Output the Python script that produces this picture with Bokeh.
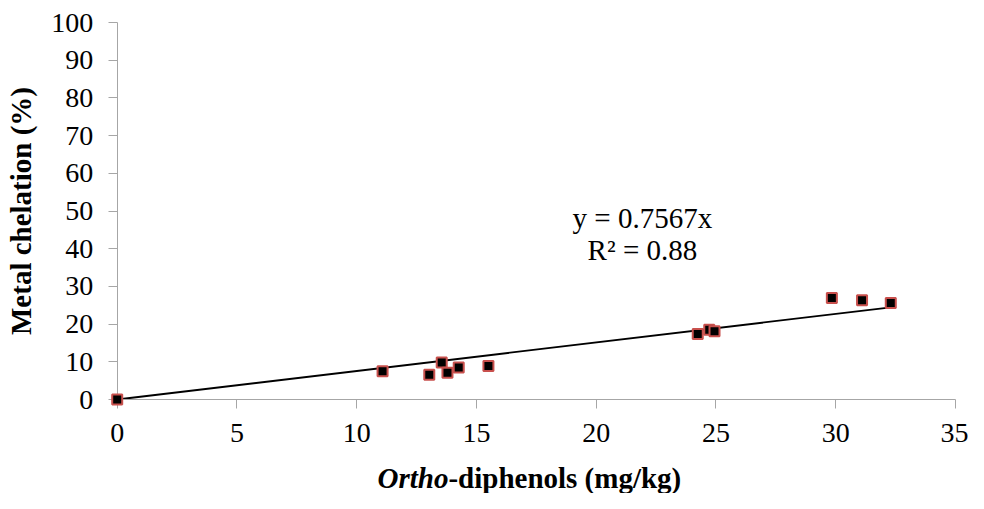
from bokeh.plotting import figure
from bokeh.models import Range1d, Label, FixedTicker
from bokeh.embed import file_html
from bokeh.resources import INLINE

# data
ortho_diphenols = [0.0, 11.08, 13.03, 13.55, 13.79, 14.26, 15.50, 24.24, 24.72, 24.94, 29.84, 31.10, 32.30]
metal_chelation = [0.0, 7.5, 6.6, 9.8, 7.1, 8.5, 8.9, 17.4, 18.5, 18.1, 26.9, 26.3, 25.6]
slope = 0.7567
r_squared = 0.88
x_ticks = [0, 5, 10, 15, 20, 25, 30, 35]
y_ticks = [0, 10, 20, 30, 40, 50, 60, 70, 80, 90, 100]

FONT = "Liberation Serif"

p = figure(width=968, height=493, output_backend="svg", toolbar_location=None,
           x_range=Range1d(-4.873, 35.545), y_range=Range1d(-24.93, 105.84),
           min_border_left=0, min_border_right=0, min_border_top=0, min_border_bottom=0)
p.outline_line_color = None
p.grid.visible = False
p.background_fill_color = "white"
p.border_fill_color = "white"

p.xaxis.fixed_location = 0
p.yaxis.fixed_location = 0
p.xaxis.bounds = (0, 35)
p.yaxis.bounds = (0, 100)

for ax in (p.xaxis[0], p.yaxis[0]):
    ax.axis_line_color = "#A6A6A6"
    ax.major_tick_line_color = "#A6A6A6"
    ax.minor_tick_line_color = None
    ax.major_tick_in = 0
    ax.major_tick_out = 9
    ax.major_label_text_font = FONT
    ax.major_label_text_font_size = "28px"
    ax.major_label_text_color = "#000000"

p.xaxis.ticker = FixedTicker(ticks=x_ticks)
p.yaxis.ticker = FixedTicker(ticks=y_ticks)
p.xaxis.major_label_standoff = 15
p.yaxis.major_label_standoff = 15

p.yaxis.axis_label = "Metal chelation (%)"
p.yaxis.axis_label_text_font = FONT
p.yaxis.axis_label_text_font_style = "bold"
p.yaxis.axis_label_text_font_size = "29px"
p.yaxis.axis_label_text_color = "#000000"
p.yaxis.axis_label_standoff = 12

# trend line y = slope * x
xmax = max(ortho_diphenols)
p.line([0, xmax], [0, slope * xmax], line_color="black", line_width=1.8)

p.scatter(ortho_diphenols, metal_chelation, marker="square", size=10,
          fill_color="black", line_color="#C8504D", line_width=2, level="overlay")

p.add_layout(Label(x=21.93, y=48.1, text="y = %.4fx" % slope, text_align="center",
                   text_baseline="alphabetic", text_font=FONT, text_font_size="29px",
                   text_color="black"))
p.add_layout(Label(x=21.93, y=39.6, text="R² = %.2f" % r_squared, text_align="center",
                   text_baseline="alphabetic", text_font=FONT, text_font_size="29px",
                   text_color="black"))

# x-axis title with italic part
p.add_layout(Label(x=13.83, y=-20.95, text="Ortho", text_align="right",
                   text_baseline="alphabetic", text_font=FONT, text_font_size="29px",
                   text_font_style="bold italic", text_color="black"))
p.add_layout(Label(x=13.83, y=-20.95, text="-diphenols (mg/kg)", text_align="left",
                   text_baseline="alphabetic", text_font=FONT, text_font_size="29px",
                   text_font_style="bold", text_color="black"))

open("out.html", "w").write(file_html(p, INLINE))
